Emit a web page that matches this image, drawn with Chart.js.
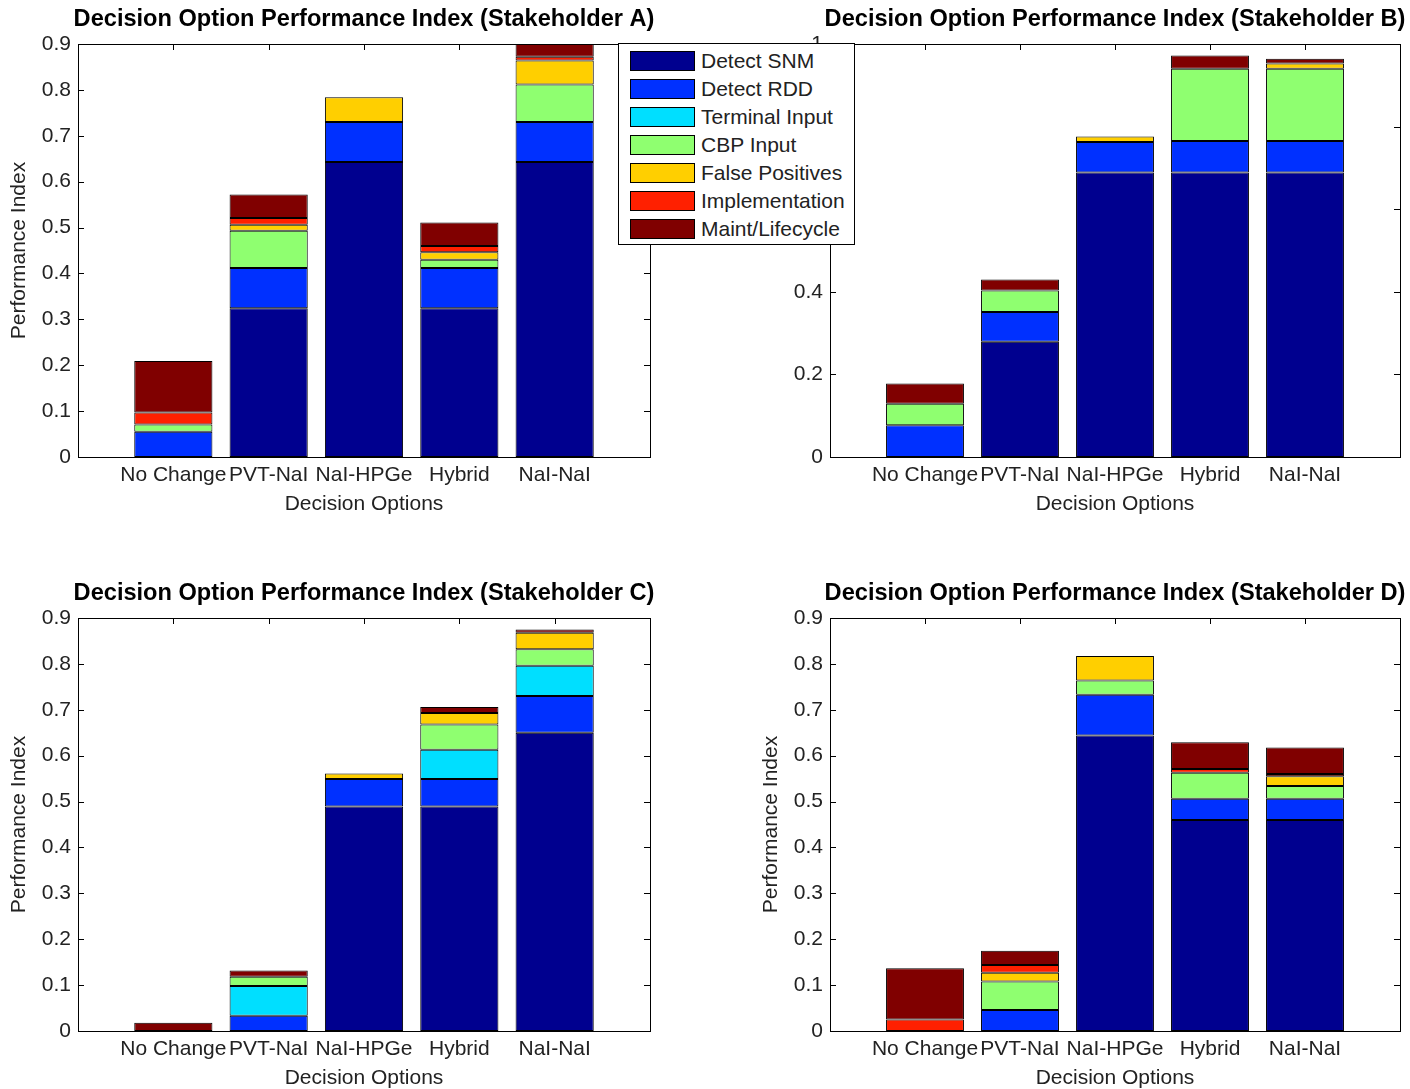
<!DOCTYPE html>
<html>
<head>
<meta charset="utf-8">
<script src="https://cdn.jsdelivr.net/npm/chart.js@4.4.1/dist/chart.umd.min.js"></script>
<style>
  html, body { margin: 0; padding: 0; background: #fff; }
  #fig { position: relative; width: 1410px; height: 1089px; overflow: hidden; background: #fff; }
  #fig canvas { position: absolute; }
  #legend {
    position: absolute; left: 618px; top: 43px; width: 235px; height: 197px;
    padding-top: 3px; border: 1px solid #000; background: #fff; z-index: 5;
    font: 21px "Liberation Sans", Arial, sans-serif; color: #222;
  }
  #legend .row { display: flex; align-items: center; height: 28px; }
  #legend .sw { margin-left: 11px; width: 63px; height: 18px; border: 1px solid #000; }
  #legend .tx { margin-left: 6px; white-space: nowrap; }
</style>
</head>
<body>
<div id="fig">
  <canvas id="cA" width="705" height="545" style="left:0;top:0;"></canvas>
  <canvas id="cB" width="705" height="545" style="left:705px;top:0;"></canvas>
  <canvas id="cC" width="705" height="569" style="left:0;top:520px;"></canvas>
  <canvas id="cD" width="705" height="569" style="left:705px;top:520px;"></canvas>
  <div id="legend"></div>
</div>
<script>
// ---------- data ----------
const categories = ['No Change', 'PVT-NaI', 'NaI-HPGe', 'Hybrid', 'NaI-NaI'];
const seriesNames = ['Detect SNM', 'Detect RDD', 'Terminal Input', 'CBP Input',
                     'False Positives', 'Implementation', 'Maint/Lifecycle'];
const seriesColors = ['#00008F', '#0030FF', '#00DFFF', '#8FFF70', '#FFCF00', '#FF2000', '#800000'];

// rows follow seriesNames; columns follow categories
const stakeholderA = [
  [0.000, 0.324, 0.643, 0.324, 0.643],
  [0.055, 0.088, 0.087, 0.088, 0.087],
  [0.000, 0.000, 0.000, 0.000, 0.000],
  [0.016, 0.081, 0.000, 0.018, 0.082],
  [0.000, 0.013, 0.054, 0.016, 0.052],
  [0.026, 0.015, 0.000, 0.014, 0.008],
  [0.112, 0.051, 0.000, 0.051, 0.051]
];
const stakeholderB = [
  [0.000, 0.279, 0.689, 0.689, 0.689],
  [0.077, 0.072, 0.074, 0.076, 0.076],
  [0.000, 0.000, 0.000, 0.000, 0.000],
  [0.052, 0.052, 0.000, 0.175, 0.175],
  [0.000, 0.000, 0.013, 0.000, 0.013],
  [0.000, 0.000, 0.000, 0.000, 0.000],
  [0.049, 0.027, 0.000, 0.032, 0.011]
];
const stakeholderC = [
  [0.000, 0.000, 0.489, 0.489, 0.650],
  [0.000, 0.033, 0.060, 0.060, 0.080],
  [0.000, 0.065, 0.000, 0.064, 0.066],
  [0.000, 0.020, 0.000, 0.055, 0.036],
  [0.000, 0.000, 0.012, 0.025, 0.036],
  [0.000, 0.000, 0.000, 0.000, 0.000],
  [0.018, 0.014, 0.000, 0.013, 0.007]
];
const stakeholderD = [
  [0.000, 0.000, 0.644, 0.460, 0.460],
  [0.000, 0.046, 0.089, 0.046, 0.046],
  [0.000, 0.000, 0.000, 0.000, 0.000],
  [0.000, 0.062, 0.031, 0.057, 0.028],
  [0.000, 0.019, 0.053, 0.000, 0.021],
  [0.025, 0.017, 0.000, 0.008, 0.005],
  [0.112, 0.031, 0.000, 0.058, 0.058]
];
const yTicksA = [0, 0.1, 0.2, 0.3, 0.4, 0.5, 0.6, 0.7, 0.8, 0.9];
const yTicksB = [0, 0.2, 0.4, 0.6, 0.8, 1];
const xTitle = 'Decision Options';
const yTitle = 'Performance Index';
const titleBase = 'Decision Option Performance Index (Stakeholder ';

// ---------- rendering ----------
const FONT = '"Liberation Sans", Arial, sans-serif';
const TXT = '#222';
Chart.defaults.font.family = FONT;
Chart.defaults.font.size = 21;
Chart.defaults.color = TXT;

const matlabAxes = {
  id: 'matlabAxes',
  beforeDatasetsDraw(chart) {
    const {ctx, chartArea: a, scales: {x, y}} = chart;
    ctx.save();
    ctx.strokeStyle = '#000';
    ctx.lineWidth = 1;
    ctx.beginPath();
    y.ticks.forEach(t => {
      const p = Math.round(y.getPixelForValue(t.value)) + 0.5;
      ctx.moveTo(a.left, p); ctx.lineTo(a.left + 6, p);
      ctx.moveTo(a.right, p); ctx.lineTo(a.right - 6, p);
    });
    x.ticks.forEach(t => {
      const p = Math.round(x.getPixelForValue(t.value)) + 0.5;
      ctx.moveTo(p, a.top); ctx.lineTo(p, a.top + 6);
      ctx.moveTo(p, a.bottom); ctx.lineTo(p, a.bottom - 6);
    });
    ctx.stroke();
    ctx.restore();
  },
  afterDatasetsDraw(chart) {
    const {ctx, chartArea: a} = chart;
    ctx.save();
    ctx.strokeStyle = '#000';
    ctx.lineWidth = 1;
    ctx.strokeRect(Math.round(a.left) + 0.5, Math.round(a.top) + 0.5,
                   Math.round(a.right - a.left), Math.round(a.bottom - a.top));
    ctx.restore();
  },
  afterDraw(chart, args, opts) {
    const {ctx, chartArea: a} = chart;
    ctx.save();
    ctx.font = 'bold 23.6px ' + FONT;
    ctx.fillStyle = '#000';
    ctx.textAlign = 'center';
    ctx.textBaseline = 'middle';
    ctx.fillText(opts.text, (a.left + a.right) / 2, a.top - 25);
    ctx.restore();
  }
};

function makeChart(id, values, letter, yTicks, pad, showYTitle) {
  const yMax = yTicks[yTicks.length - 1];
  const datasets = seriesNames.map((name, s) => ({
    label: name,
    data: values[s].map((v, i) => ({x: i + 1, y: v})),
    backgroundColor: seriesColors[s],
    borderColor: '#000',
    borderWidth: 1,
    borderSkipped: false,
    categoryPercentage: 0.82,
    barPercentage: 1,
    clip: 0
  }));
  return new Chart(document.getElementById(id), {
    type: 'bar',
    data: {datasets},
    plugins: [matlabAxes],
    options: {
      responsive: false,
      animation: false,
      devicePixelRatio: 1,
      layout: {padding: pad},
      plugins: {
        legend: {display: false},
        tooltip: {enabled: false},
        matlabAxes: {text: titleBase + letter + ')'}
      },
      scales: {
        x: {
          type: 'linear', min: 0, max: categories.length + 1, stacked: true, offset: false,
          grid: {display: false, offset: false, drawTicks: false}, border: {display: false},
          ticks: {
            autoSkip: false, maxRotation: 0, minRotation: 0, padding: 5.5, color: TXT,
            callback: v => categories[v - 1] ?? ''
          },
          afterBuildTicks: s => { s.ticks = categories.map((c, i) => ({value: i + 1})); },
          afterFit: s => { s.height = 58; s.paddingLeft = 0; s.paddingRight = 0; },
          title: {display: true, text: xTitle, color: TXT, padding: {top: 0, bottom: -2}}
        },
        y: {
          type: 'linear', min: 0, max: yMax, stacked: true,
          grid: {display: false, drawTicks: false}, border: {display: false},
          ticks: {padding: 7, color: TXT, callback: v => String(+(+v).toFixed(1))},
          afterBuildTicks: s => { s.ticks = yTicks.map(v => ({value: v})); },
          afterFit: s => { s.width = 78; s.paddingTop = 0; s.paddingBottom = 0; },
          title: {display: showYTitle, text: yTitle, color: TXT, padding: {top: 6.5, bottom: 0}}
        }
      }
    }
  });
}

makeChart('cA', stakeholderA, 'A', yTicksA, {top: 44, right: 55, left: 0, bottom: 30}, true);
makeChart('cB', stakeholderB, 'B', yTicksB, {top: 44, right: 10, left: 47, bottom: 30}, false);
makeChart('cC', stakeholderC, 'C', yTicksA, {top: 98, right: 55, left: 0, bottom: 0}, true);
makeChart('cD', stakeholderD, 'D', yTicksA, {top: 98, right: 10, left: 47, bottom: 0}, true);

// legend
const lg = document.getElementById('legend');
seriesNames.forEach((name, i) => {
  const row = document.createElement('div');
  row.className = 'row';
  const sw = document.createElement('div');
  sw.className = 'sw';
  sw.style.background = seriesColors[i];
  const tx = document.createElement('span');
  tx.className = 'tx';
  tx.textContent = name;
  row.appendChild(sw); row.appendChild(tx);
  lg.appendChild(row);
});
</script>
</body>
</html>
